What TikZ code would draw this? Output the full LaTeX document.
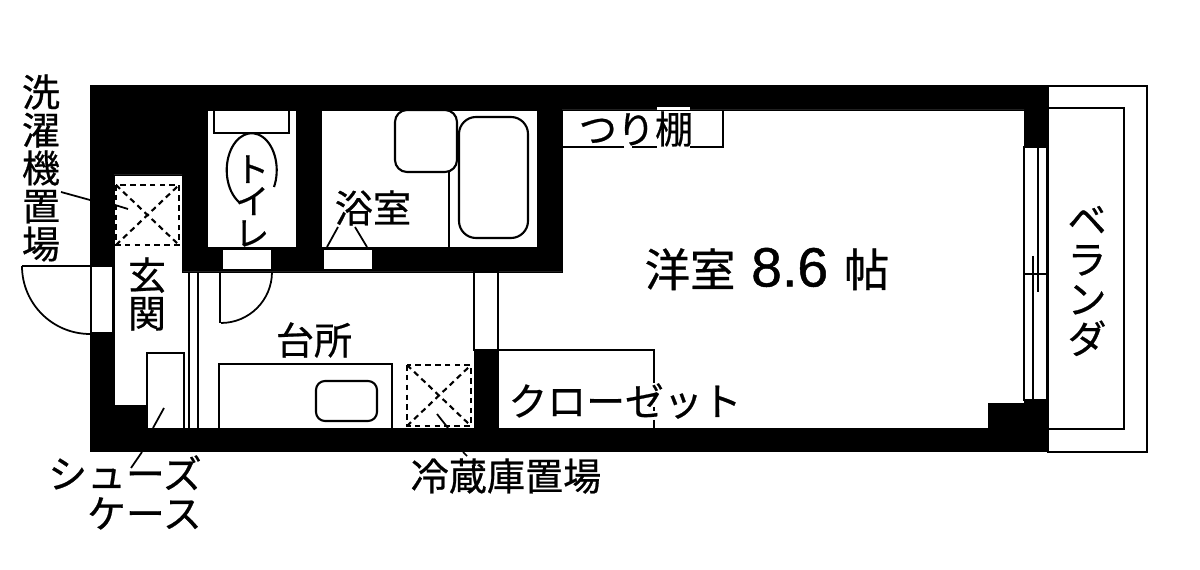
\documentclass[tikz,border=0pt]{standalone}
\usepackage{fontspec}
\setmainfont{Noto Sans CJK JP}[FakeBold=.6]
\newfontfamily\digitfont{Liberation Sans}[FakeBold=.8]
\tikzset{
  room/.style={fill=white,draw=black,line width=.5pt},
  fitting/.style={draw=black,line width=1.2pt},
  fine/.style={draw=black,line width=1pt},
  dash box/.style={draw=black,line width=1.2pt,dash pattern=on 3.2pt off 2.4pt},
  lbl/.style={inner sep=0pt,align=center,font=\fontsize{21.7}{21.6}\selectfont},
  kana/.style={lbl,font=\fontsize{22.1}{22.6}\selectfont},
}
\begin{document}
\begin{tikzpicture}[x=.02cm,y=-.02cm]
    \useasboundingbox (0,0) rectangle (1200,570);
    \fill[black] (90,85) rectangle (1048,452);
    \draw[room,line width=.9pt] (1048,86) rectangle (1147,452);
    \draw[fitting] (1048,108) -- (1124,108) -- (1124,429) -- (1048,429);
    \draw[room] (207,110) rectangle (296,247);
    \draw[room] (321,110) rectangle (537,247);
    \draw[room] (114,175) -- (182,175) -- (182,272) -- (474,272) -- (474,428)
      -- (147,428) -- (147,405) -- (114,405) -- cycle;
    \draw[room] (562,110) -- (1024,110) -- (1024,403) -- (988,403) -- (988,428)
      -- (498,428) -- (498,272) -- (562,272) -- cycle;
    \begin{scope}[fitting,fill=white]
      \draw[fill=white] (474,272) rectangle (498,350);
      \draw[fill=white] (91,266) rectangle (113,333);
      \draw[fill=white,line width=.6pt] (222,249) rectangle (272,270);
      \draw[fill=white,line width=.6pt] (323,249) rectangle (373,270);
      \draw[fill=white,line width=.6pt] (1024,147) rectangle (1047,400);
    \end{scope}
    \draw[fitting] (1024,147) -- (1024,400);
    \draw[fine] (1024,274) -- (1047,274);
    \draw[fine] (1038,147) -- (1038,292);
    \draw[fine] (1033,256) -- (1033,400);
    \draw[fine] (22,266) -- (90,266);
    \draw[fine] (22,266) arc[start angle=180,end angle=270,radius=1.36cm];
    \draw[fine] (220,272) -- (220,323);
    \draw[fine] (272,272) arc[start angle=0,end angle=-90,radius=1.02cm];
    \draw[fine] (189,272) -- (189,428);
    \draw[fine] (198,272) -- (198,428);
    \draw[fitting] (214,110) -- (214,133) -- (289,133) -- (289,110);
    \draw[fitting] (274,187) arc[start angle=-27,end angle=243,x radius=.5cm,y radius=.74cm];
    \draw[fitting] (449,172) -- (449,247);
    \draw[fitting,rounded corners=.24cm] (395,110) rectangle (457,172);
    \draw[fitting,rounded corners=.34cm] (459,117) rectangle (528,238);
    \draw[fitting] (624,147) -- (562,147);
    \draw[fitting] (632,147) -- (657,147);
    \draw[fitting] (690,147) -- (723,147) -- (723,110);
    \fill[white] (657,107) rectangle (690,110);
    \draw[fitting] (147,405) -- (147,353) -- (184,353) -- (184,428);
    \draw[fitting] (219,428) -- (219,364) -- (392,364) -- (392,428);
    \draw[fitting,rounded corners=.18cm] (316,381) rectangle (377,421);
    \draw[fitting] (498,350) -- (654,350) -- (654,383);
    \draw[fitting] (654,407) -- (654,411);
    \draw[fitting] (654,420) -- (654,428);
    \begin{scope}[dash box]
      \draw (116,185) rectangle (179,245);
      \draw (116,185) -- (179,245);
      \draw (116,245) -- (179,185);
      \draw (407,365) rectangle (471,426);
      \draw (407,365) -- (471,426);
      \draw (407,426) -- (471,365);
    \end{scope}

    \node[lbl] (washlabel) at (41,168) {洗\\濯\\機\\置\\場};
    \node[lbl] (halllabel) at (147,294) {玄\\関};
    \node[lbl,font=\fontsize{19.5}{18.2}\selectfont] (toiletlabel) at (252,201) {ト\\イ\\レ};
    \node[lbl] (bathlabel) at (373,208) {浴室};
    \node[lbl] (shelflabel) at (636,129) {つり棚};
    \node[lbl,font=\fontsize{25.8}{26}\selectfont] (westlabel) at (767,269)
      {洋室\hspace{9pt}{\digitfont\fontsize{31.5}{26}\selectfont 8.6}\hspace{9pt}帖};
    \node[kana] (veranda) at (1087,281) {ベ\\ラ\\ン\\ダ};
    \node[lbl] (kitchenlabel) at (314,340) {台所};
    \node[kana] (closetlabel) at (625,401) {クローゼット};
    \node[lbl] (fridgelabel) at (506,476) {冷蔵庫置場};
    \node[kana,align=right,anchor=north east] (shoelabel) at (202,455) {シューズ\\ケース};

    \coordinate (washa) at (61,192);
    \coordinate (washb) at (90,200);
    \coordinate (washc) at (115,205);
    \coordinate (washd) at (128,209);
    \coordinate (batha) at (327,247);
    \coordinate (bathb) at (338,227);
    \coordinate (bathc) at (367,247);
    \coordinate (bathd) at (355,227);
    \coordinate (shoea) at (164,408);
    \coordinate (shoeb) at (153,428);
    \coordinate (shoec) at (142,452);
    \coordinate (shoed) at (131,468);
    \coordinate (fridgea) at (437,414);
    \coordinate (fridgeb) at (448,428);
    \coordinate (fridgec) at (463,452);
    \coordinate (fridged) at (467,456);
    \draw[fine] (washa) -- (washb);
    \draw[fine] (washc) -- (washd);
    \draw[fine] (batha) -- (bathb);
    \draw[fine] (bathc) -- (bathd);
    \draw[fine] (shoea) -- (shoeb);
    \draw[fine] (shoec) -- (shoed);
    \draw[fine] (fridgea) -- (fridgeb);
    \draw[fine] (fridgec) -- (fridged);
  \end{tikzpicture}
\end{document}
